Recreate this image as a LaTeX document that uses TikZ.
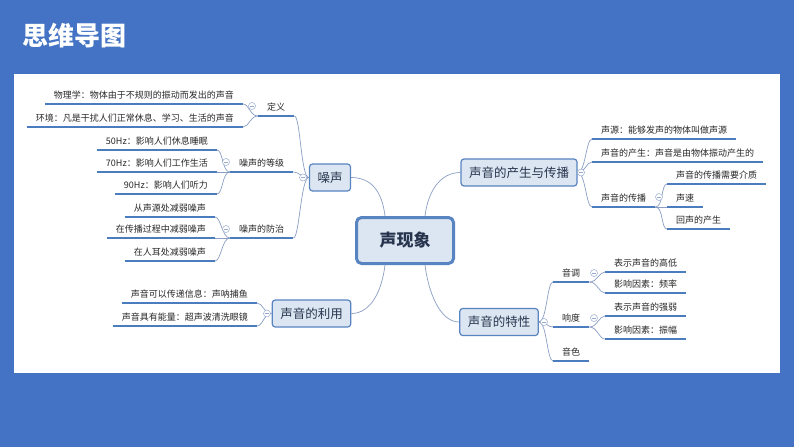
\documentclass[tikz,border=0pt]{standalone}
\usepackage{fontspec}
\setmainfont{Noto Sans CJK SC}
\usepackage{xcolor}
\usepackage{tikz}
\usetikzlibrary{shapes.geometric, arrows}
\definecolor{back}{RGB}{68, 114, 196}
\definecolor{boxfill}{RGB}{220, 230, 242}
\definecolor{boxline}{RGB}{88, 132, 194}
\definecolor{ulinecol}{RGB}{74, 124, 190}
\definecolor{linkcol}{RGB}{138, 158, 198}
\definecolor{foldcol}{RGB}{150, 170, 205}
\definecolor{topictext}{RGB}{38, 52, 77}
\definecolor{leaftext}{RGB}{40, 40, 40}
\tikzstyle{heading} = [anchor=west, inner sep=0pt, text=white, font=\fontsize{26}{26}\selectfont\bfseries]
\tikzstyle{root} = [rectangle, rounded corners=5pt, minimum width=97pt, minimum height=46pt, line width=3pt, draw=boxline, fill=boxfill, text=topictext, font=\fontsize{17}{17}\selectfont\bfseries]
\tikzstyle{topic} = [rectangle, rounded corners=3pt, minimum height=27pt, inner xsep=8pt, line width=1.2pt, draw=boxline, fill=boxfill, text=topictext, font=\fontsize{12.5}{12.5}\selectfont]
\tikzstyle{leaf} = [inner xsep=9pt, inner ysep=3.5pt, text height=7pt, text depth=1.5pt, text=leaftext, font=\fontsize{9}{9}\selectfont]
\tikzstyle{leafl} = [leaf, anchor=south east]
\tikzstyle{leafr} = [leaf, anchor=south west]
\tikzstyle{uline} = [line width=1.6pt, draw=ulinecol]
\tikzstyle{link} = [line width=0.7pt, draw=linkcol]
\tikzstyle{fold} = [circle, draw=foldcol, fill=white, line width=0.5pt, minimum size=7pt, inner sep=0pt,
  path picture={\draw[foldcol, line width=0.5pt] ([xshift=-2pt]path picture bounding box.center) -- ([xshift=2pt]path picture bounding box.center);}]

\begin{document}
\begin{tikzpicture}[x=1pt, y=-1pt]

	% Page
	\useasboundingbox (0,0) rectangle (794,447);
	\fill [back] (0,0) rectangle (794,447);
	\fill [white] (14,74) rectangle (780,373);
	\node (title) [heading] at (22,36) {思维导图};

	% Nodes
	\node (root) [root] at (405,240.5) {声现象};
	\node (noise) [topic] at (330,177.5) {噪声};
	\node (spread) [topic, minimum width=116pt] at (519,172.5) {声音的产生与传播};
	\node (trait) [topic] at (499,322) {声音的特性};
	\node (use) [topic] at (311.5,313.5) {声音的利用};

	\node (def) [leafr] at (258,116) {定义};
	\node (grade) [leafr] at (230,172) {噪声的等级};
	\node (cure) [leafr] at (230,238) {噪声的防治};
	\node (def1) [leafl] at (243,104) {物理学：物体由于不规则的振动而发出的声音};
	\node (def2) [leafl] at (243,127) {环境：凡是干扰人们正常休息、学习、生活的声音};
	\node (grade1) [leafl] at (217,150) {50Hz：影响人们休息睡眠};
	\node (grade2) [leafl] at (217,172) {70Hz：影响人们工作生活};
	\node (grade3) [leafl] at (217,194) {90Hz：影响人们听力};
	\node (cure1) [leafl] at (215,217) {从声源处减弱噪声};
	\node (cure2) [leafl] at (215,238) {在传播过程中减弱噪声};
	\node (cure3) [leafl] at (215,261) {在人耳处减弱噪声};
	\node (use1) [leafl] at (257,303) {声音可以传递信息：声呐捕鱼};
	\node (use2) [leafl] at (257,326) {声音具有能量：超声波清洗眼镜};

	\node (src) [leafr] at (592,139) {声源：能够发声的物体叫做声源};
	\node (make) [leafr] at (592,162) {声音的产生：声音是由物体振动产生的};
	\node (pass) [leafr] at (592,207) {声音的传播};
	\node (pass1) [leafr] at (667,184) {声音的传播需要介质};
	\node (pass2) [leafr] at (667,207) {声速};
	\node (pass3) [leafr] at (667,229) {回声的产生};
	\node (pitch) [leafr] at (553,282) {音调};
	\node (loud) [leafr] at (553,327) {响度};
	\node (timbre) [leafr] at (553,361) {音色};
	\node (pitch1) [leafr] at (605,272) {表示声音的高低};
	\node (pitch2) [leafr] at (605,293) {影响因素：频率};
	\node (loud1) [leafr] at (605,316) {表示声音的强弱};
	\node (loud2) [leafr] at (605,339) {影响因素：振幅};

	% Links
	\draw [link] ([xshift=-20pt]root.north) .. controls +(-3,-25) and +(20,0) .. (noise.east);
	\draw [link] ([xshift=20pt]root.north) .. controls +(3,-25) and +(-20,0) .. (spread.west);
	\draw [link] ([xshift=-20pt]root.south) .. controls +(-3,25) and +(20,0) .. (use.east);
	\draw [link] ([xshift=20pt]root.south) .. controls +(3,25) and +(-20,0) .. (trait.west);

	\draw [link] (noise.west) .. controls +(-8,0) and +(6,0) .. (def.south east);
	\draw [link] (noise.west) .. controls +(-8,0) and +(6,0) .. (grade.south east);
	\draw [link] (noise.west) .. controls +(-8,0) and +(6,0) .. (cure.south east);
	\draw [link] (def.south west) .. controls +(-8,0) and +(6,0) .. (def1.south east);
	\draw [link] (def.south west) .. controls +(-8,0) and +(6,0) .. (def2.south east);
	\draw [link] (grade.south west) .. controls +(-8,0) and +(6,0) .. (grade1.south east);
	\draw [link] (grade.south west) -- (grade2.south east);
	\draw [link] (grade.south west) .. controls +(-8,0) and +(6,0) .. (grade3.south east);
	\draw [link] (cure.south west) .. controls +(-8,0) and +(6,0) .. (cure1.south east);
	\draw [link] (cure.south west) -- (cure2.south east);
	\draw [link] (cure.south west) .. controls +(-8,0) and +(6,0) .. (cure3.south east);
	\draw [link] (use.west) .. controls +(-8,0) and +(6,0) .. (use1.south east);
	\draw [link] (use.west) .. controls +(-8,0) and +(6,0) .. (use2.south east);

	\draw [link] (spread.east) .. controls +(8,0) and +(-6,0) .. (src.south west);
	\draw [link] (spread.east) .. controls +(8,0) and +(-6,0) .. (make.south west);
	\draw [link] (spread.east) .. controls +(8,0) and +(-6,0) .. (pass.south west);
	\draw [link] (pass.south east) .. controls +(8,0) and +(-6,0) .. (pass1.south west);
	\draw [link] (pass.south east) -- (pass2.south west);
	\draw [link] (pass.south east) .. controls +(8,0) and +(-6,0) .. (pass3.south west);
	\draw [link] (trait.east) .. controls +(8,0) and +(-6,0) .. (pitch.south west);
	\draw [link] (trait.east) .. controls +(8,0) and +(-6,0) .. (loud.south west);
	\draw [link] (trait.east) .. controls +(8,0) and +(-6,0) .. (timbre.south west);
	\draw [link] (pitch.south east) .. controls +(8,0) and +(-6,0) .. (pitch1.south west);
	\draw [link] (pitch.south east) .. controls +(8,0) and +(-6,0) .. (pitch2.south west);
	\draw [link] (loud.south east) .. controls +(8,0) and +(-6,0) .. (loud1.south west);
	\draw [link] (loud.south east) .. controls +(8,0) and +(-6,0) .. (loud2.south west);

	% Underlines
	\draw [uline] (def.south west) -- (def.south east);
	\draw [uline] (grade.south west) -- (grade.south east);
	\draw [uline] (cure.south west) -- (cure.south east);
	\draw [uline] (def1.south west) -- (def1.south east);
	\draw [uline] (def2.south west) -- (def2.south east);
	\draw [uline] (grade1.south west) -- (grade1.south east);
	\draw [uline] (grade2.south west) -- (grade2.south east);
	\draw [uline] (grade3.south west) -- (grade3.south east);
	\draw [uline] (cure1.south west) -- (cure1.south east);
	\draw [uline] (cure2.south west) -- (cure2.south east);
	\draw [uline] (cure3.south west) -- (cure3.south east);
	\draw [uline] (use1.south west) -- (use1.south east);
	\draw [uline] (use2.south west) -- (use2.south east);
	\draw [uline] (src.south west) -- (src.south east);
	\draw [uline] (make.south west) -- (make.south east);
	\draw [uline] (pass.south west) -- (pass.south east);
	\draw [uline] (pass1.south west) -- (pass1.south east);
	\draw [uline] (pass2.south west) -- (pass2.south east);
	\draw [uline] (pass3.south west) -- (pass3.south east);
	\draw [uline] (pitch.south west) -- (pitch.south east);
	\draw [uline] (loud.south west) -- (loud.south east);
	\draw [uline] (timbre.south west) -- (timbre.south east);
	\draw [uline] (pitch1.south west) -- (pitch1.south east);
	\draw [uline] (pitch2.south west) -- (pitch2.south east);
	\draw [uline] (loud1.south west) -- (loud1.south east);
	\draw [uline] (loud2.south west) -- (loud2.south east);

	% Fold buttons
	\node (f-noise) [fold] at (303,177.5) {};
	\node (f-def) [fold] at (252,106) {};
	\node (f-grade) [fold] at (226,162) {};
	\node (f-cure) [fold] at (226,229) {};
	\node (f-use) [fold] at (267,313.5) {};
	\node (f-spread) [fold] at (581,172.5) {};
	\node (f-pass) [fold] at (659,197) {};
	\node (f-trait) [fold] at (544,322) {};
	\node (f-pitch) [fold] at (594,273) {};
	\node (f-loud) [fold] at (594,318) {};

\end{tikzpicture}
\end{document}
